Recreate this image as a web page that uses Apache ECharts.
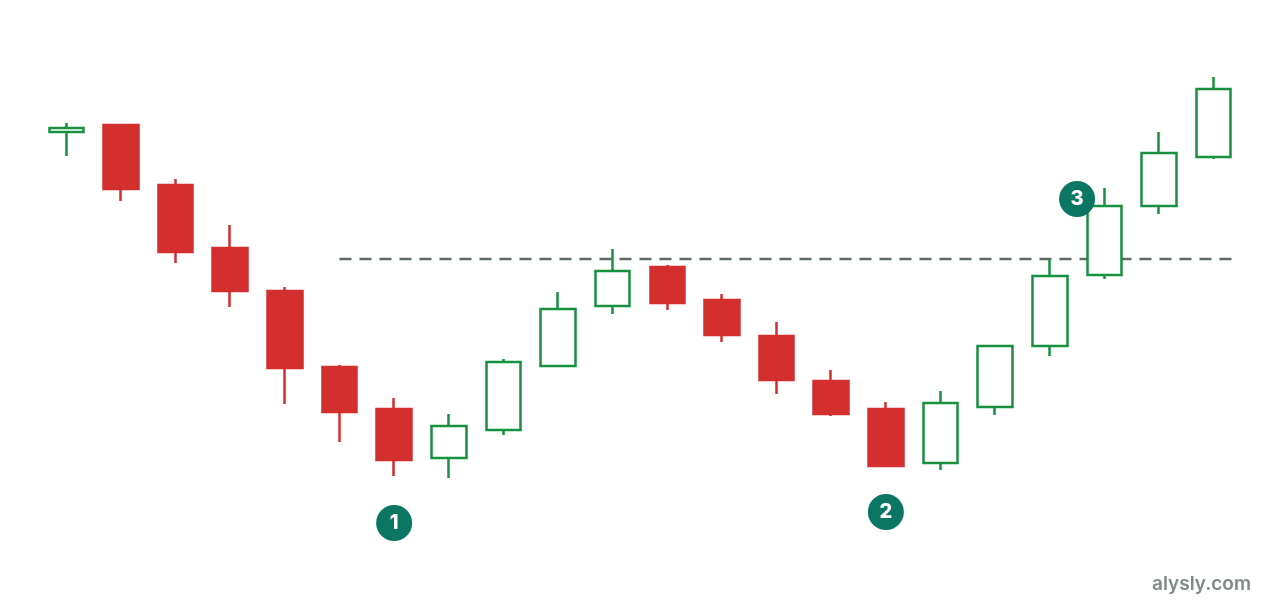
<!DOCTYPE html>
<html><head><meta charset="utf-8">
<script src="https://cdn.jsdelivr.net/npm/echarts@6/dist/echarts.min.js"></script>
<style>html,body{margin:0;padding:0;background:#fff}#c{width:1280px;height:600px}</style>
</head><body><div id="c"></div>
<script>
// candles: [open, close, low, high]
const categories = ['1','2','3','4','5','6','7','8','9','10','11','12','13','14','15','16','17','18','19','20','21','22'];
const opens  = [468,475,415,352,309,233,191,142,170,234,294,333,300,264,219,191,137,193,254,325,394,443];
const closes = [472,411,348,309,232,188,140,174,238,291,329,297,265,220,186,134,197,254,324,394,447,511];
const lows   = [444,399,337,293,196,158,124,122,165,233,286,290,258,206,184,134,130,185,244,321,386,441];
const highs  = [477,476,421,375,313,235,202,186,241,308,351,335,306,278,230,198,209,254,340,412,468,523];
const resistanceLevel = 341;
const resistanceRange = [5, 21.35];
const markers = [[6, 77, '1'], [15, 88, '2'], [18.5, 401, '3']];

const candleData = opens.map((o, i) => [o, closes[i], lows[i], highs[i]]);
const chart = echarts.init(document.getElementById('c'));
chart.setOption({
  animation: false,
  grid: {left: 39, right: 39, top: 0, bottom: 0},
  xAxis: [
    {type: 'category', data: categories, show: false, boundaryGap: true},
    {type: 'value', min: -0.5, max: 21.5, show: false}
  ],
  yAxis: {type: 'value', min: 0, max: 600, show: false},
  series: [
    {
      type: 'line', xAxisIndex: 1, symbol: 'none', z: 1,
      data: resistanceRange.map(x => [x, resistanceLevel]),
      lineStyle: {color: '#5d6b67', width: 2.5, type: [12, 8]}
    },
    {
      type: 'candlestick', data: candleData, barWidth: 35, z: 2,
      itemStyle: {color: '#ffffff', borderColor: '#17903f', color0: '#d32f2f', borderColor0: '#d32f2f', borderWidth: 2.5}
    },
    {
      type: 'scatter', xAxisIndex: 1, symbolSize: 36, z: 3,
      data: markers.map(m => ({value: [m[0], m[1]], label: {formatter: m[2]}})),
      itemStyle: {color: '#0b7662', opacity: 1},
      label: {show: true, position: 'inside', color: '#ffffff', fontSize: 20, fontWeight: 800, fontFamily: 'Inter'}
    }
  ],
  graphic: [{
    type: 'text', right: 29, bottom: 6,
    style: {text: 'alysly.com', fill: '#7d8a87', font: '600 19px Inter'}
  }]
});
</script></body></html>
